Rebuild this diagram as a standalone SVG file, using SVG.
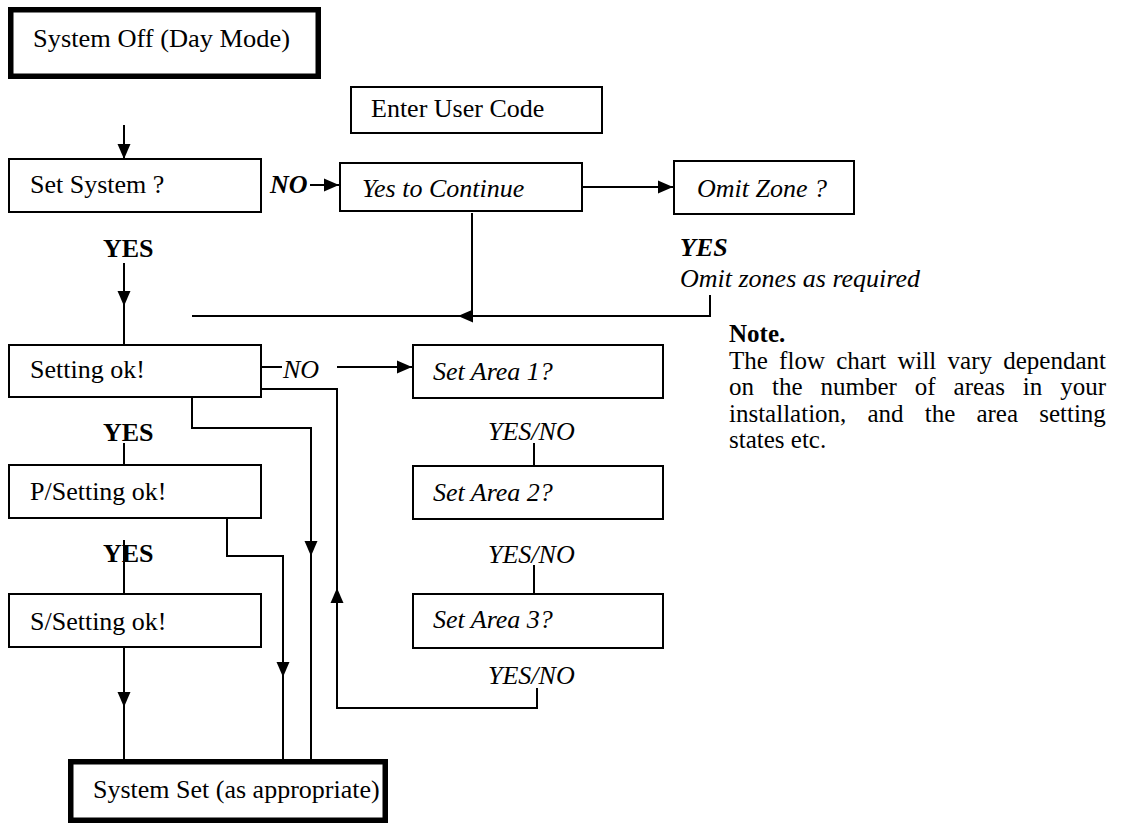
<svg xmlns="http://www.w3.org/2000/svg" xmlns:xlink="http://www.w3.org/1999/xlink" width="1121" height="825" viewBox="0 0 1121 825">
<style>
.box{fill:#fff;stroke:#000;stroke-width:2}
.tbox{fill:#fff;stroke:#000;stroke-width:5.5}
.ln{fill:none;stroke:#000;stroke-width:2}
text{font-family:"Liberation Serif","Times New Roman",serif;font-size:26px;fill:#000}
.i{font-style:italic}
.b{font-weight:bold}
.n{font-size:25px}
</style>
<defs>
<path id="ah" d="M0,0 L-15,-6.5 L-15,6.5 Z" fill="#000"/>
</defs>
<rect width="1121" height="825" fill="#fff"/>

<g id="connectors">
<path class="ln" d="M124,125 V159"/>
<use xlink:href="#ah" transform="translate(124,159) rotate(90)"/>
<path class="ln" d="M310,185 H339"/>
<use xlink:href="#ah" transform="translate(339,185)"/>
<path class="ln" d="M582,187 H673"/>
<use xlink:href="#ah" transform="translate(673,187)"/>
<path class="ln" d="M472,213 V316"/>
<path class="ln" d="M192,316 H710 V295"/>
<use xlink:href="#ah" transform="translate(458,316) rotate(180)"/>
<path class="ln" d="M124,263 V345"/>
<use xlink:href="#ah" transform="translate(124,306) rotate(90)"/>
<path class="ln" d="M261,367 H282"/>
<path class="ln" d="M337,367 H412"/>
<use xlink:href="#ah" transform="translate(412,367)"/>
<path class="ln" d="M192,397 V428 H311 V759"/>
<use xlink:href="#ah" transform="translate(311,556) rotate(90)"/>
<path class="ln" d="M537,688 V708 H337 V389 H261"/>
<use xlink:href="#ah" transform="translate(337,588) rotate(-90)"/>
<path class="ln" d="M124,443 V465"/>
<path class="ln" d="M227,518 V556 H283 V759"/>
<use xlink:href="#ah" transform="translate(283,677) rotate(90)"/>
<path class="ln" d="M124,540 V594"/>
<path class="ln" d="M124,647 V759"/>
<use xlink:href="#ah" transform="translate(124,707) rotate(90)"/>
<path class="ln" d="M534,443 V466"/>
<path class="ln" d="M534,565 V594"/>
</g>

<g id="system-off">
<rect class="tbox" x="10.75" y="9.75" width="307.5" height="66.5"/>
<text x="33" y="47" textLength="257" lengthAdjust="spacingAndGlyphs">System Off (Day Mode)</text>
</g>

<g id="enter-user-code">
<rect class="box" x="351" y="87" width="251" height="46"/>
<text x="371" y="117">Enter User Code</text>
</g>

<g id="set-system">
<rect class="box" x="9" y="159" width="252" height="53"/>
<text x="30" y="193">Set System ?</text>
</g>
<text class="b i" x="270" y="193">NO</text>

<g id="yes-to-continue">
<rect class="box" x="340" y="163" width="242" height="48"/>
<text class="i" x="362" y="197">Yes to Continue</text>
</g>

<g id="omit-zone">
<rect class="box" x="674" y="161" width="180" height="53"/>
<text class="i" x="697" y="197">Omit Zone ?</text>
</g>
<text class="b i" x="680" y="256">YES</text>
<text class="i" x="680" y="287">Omit zones as required</text>

<text class="b" x="103" y="257">YES</text>

<g id="setting-ok">
<rect class="box" x="9" y="345" width="252" height="52"/>
<text x="30" y="378">Setting ok!</text>
</g>
<text class="i" x="283" y="378">NO</text>

<text class="b" x="103" y="441">YES</text>

<g id="p-setting-ok">
<rect class="box" x="9" y="465" width="252" height="53"/>
<text x="30" y="500">P/Setting ok!</text>
</g>

<text class="b" x="103" y="562">YES</text>

<g id="s-setting-ok">
<rect class="box" x="9" y="594" width="252" height="53"/>
<text x="30" y="630">S/Setting ok!</text>
</g>

<g id="set-area-1">
<rect class="box" x="413" y="345" width="250" height="53"/>
<text class="i" x="433" y="380">Set Area 1?</text>
</g>
<text class="i" x="488" y="440">YES/NO</text>

<g id="set-area-2">
<rect class="box" x="413" y="466" width="250" height="53"/>
<text class="i" x="433" y="501">Set Area 2?</text>
</g>
<text class="i" x="488" y="563">YES/NO</text>

<g id="set-area-3">
<rect class="box" x="413" y="594" width="250" height="54"/>
<text class="i" x="433" y="628">Set Area 3?</text>
</g>
<text class="i" x="488" y="684">YES/NO</text>

<g id="system-set">
<rect class="tbox" x="70.75" y="761.75" width="314.5" height="58.5"/>
<text x="93" y="798">System Set (as appropriate)</text>
</g>

<g id="note">
<text class="b n" x="729" y="342">Note.</text>
<text class="n" x="729" y="368.5" style="word-spacing:5px">The flow chart will vary dependant</text>
<text class="n" x="729" y="395" style="word-spacing:11.7px">on the number of areas in your</text>
<text class="n" x="729" y="421.5" style="word-spacing:14.9px">installation, and the area setting</text>
<text class="n" x="729" y="448">states etc.</text>
</g>
</svg>
